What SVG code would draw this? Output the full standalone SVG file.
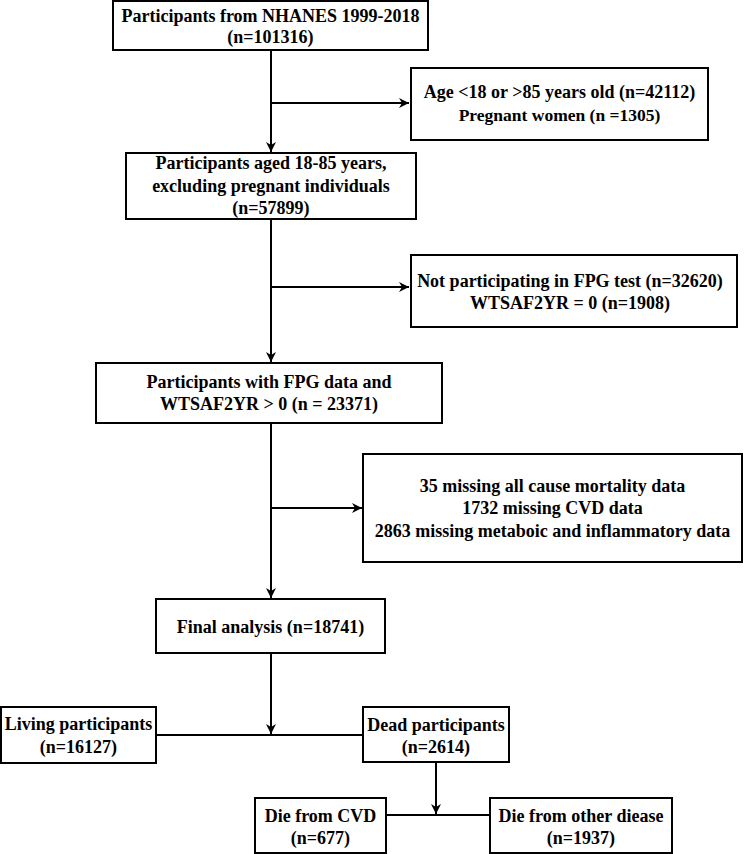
<svg xmlns="http://www.w3.org/2000/svg" width="744" height="854" viewBox="0 0 744 854">
<style>
.box{fill:#fff;stroke:#000;stroke-width:2}
.t{font-family:"Liberation Serif","Times New Roman",serif;font-weight:bold;font-size:18px;text-anchor:middle;fill:#000}
.s{font-size:17.5px}
.ln{stroke:#000;stroke-width:2;fill:none}
</style>
<defs>
<marker id="ah" markerWidth="12" markerHeight="12" refX="10" refY="5" orient="auto" markerUnits="userSpaceOnUse">
<path d="M0,0 L10,5 L0,10 L3,5 Z" fill="#000"/>
</marker>
</defs>
<rect width="744" height="854" fill="#fff"/>
<g id="connectors">
<path class="ln" d="M271,50 V152" marker-end="url(#ah)"/>
<path class="ln" d="M271,103 H409" marker-end="url(#ah)"/>
<path class="ln" d="M271,219 V362" marker-end="url(#ah)"/>
<path class="ln" d="M271,287 H409" marker-end="url(#ah)"/>
<path class="ln" d="M271,423 V598" marker-end="url(#ah)"/>
<path class="ln" d="M271,508 H362" marker-end="url(#ah)"/>
<path class="ln" d="M271,653 V734" marker-end="url(#ah)"/>
<path class="ln" d="M156,735 H363"/>
<path class="ln" d="M436,762 V814" marker-end="url(#ah)"/>
<path class="ln" d="M386,815 H490"/>
</g>
<g id="n1"><rect class="box" x="113" y="1" width="315" height="49"/>
<text class="t" x="270.5" y="22">Participants from NHANES 1999-2018</text>
<text class="t" x="270.5" y="43">(n=101316)</text></g>
<g id="n2"><rect class="box" x="411" y="68" width="297" height="72"/>
<text class="t" x="559.5" y="98">Age &lt;18 or &gt;85 years old (n=42112)</text>
<text class="t s" x="559.5" y="121">Pregnant women (n =1305)</text></g>
<g id="n3"><rect class="box" x="126" y="153" width="290" height="66"/>
<text class="t" x="271" y="169">Participants aged 18-85 years,</text>
<text class="t" x="271" y="192">excluding pregnant individuals</text>
<text class="t" x="271" y="214">(n=57899)</text></g>
<g id="n4"><rect class="box" x="411" y="255" width="326" height="72"/>
<text class="t" x="570" y="287">Not participating in FPG test (n=32620)</text>
<text class="t" x="570" y="309">WTSAF2YR = 0 (n=1908)</text></g>
<g id="n5"><rect class="box" x="96" y="363" width="346" height="60"/>
<text class="t" x="269" y="388">Participants with FPG data and</text>
<text class="t" x="269" y="410">WTSAF2YR &gt; 0 (n = 23371)</text></g>
<g id="n6"><rect class="box" x="363" y="454" width="379" height="108"/>
<text class="t" x="552.5" y="492">35 missing all cause mortality data</text>
<text class="t" x="552.5" y="514">1732 missing CVD data</text>
<text class="t" x="552.5" y="537">2863 missing metaboic and inflammatory data</text></g>
<g id="n7"><rect class="box" x="156" y="599" width="229" height="54"/>
<text class="t" x="270.5" y="633">Final analysis (n=18741)</text></g>
<g id="n8"><rect class="box" x="1" y="707" width="155" height="56"/>
<text class="t" x="78.5" y="730">Living participants</text>
<text class="t" x="78.5" y="753">(n=16127)</text></g>
<g id="n9"><rect class="box" x="363" y="707" width="146" height="55"/>
<text class="t" x="436" y="731">Dead participants</text>
<text class="t" x="436" y="753">(n=2614)</text></g>
<g id="n10"><rect class="box" x="255" y="798" width="131" height="55"/>
<text class="t" x="320.5" y="822">Die from CVD</text>
<text class="t" x="320.5" y="844">(n=677)</text></g>
<g id="n11"><rect class="box" x="490" y="798" width="182" height="55"/>
<text class="t" x="581" y="822">Die from other diease</text>
<text class="t" x="581" y="844">(n=1937)</text></g>
</svg>
